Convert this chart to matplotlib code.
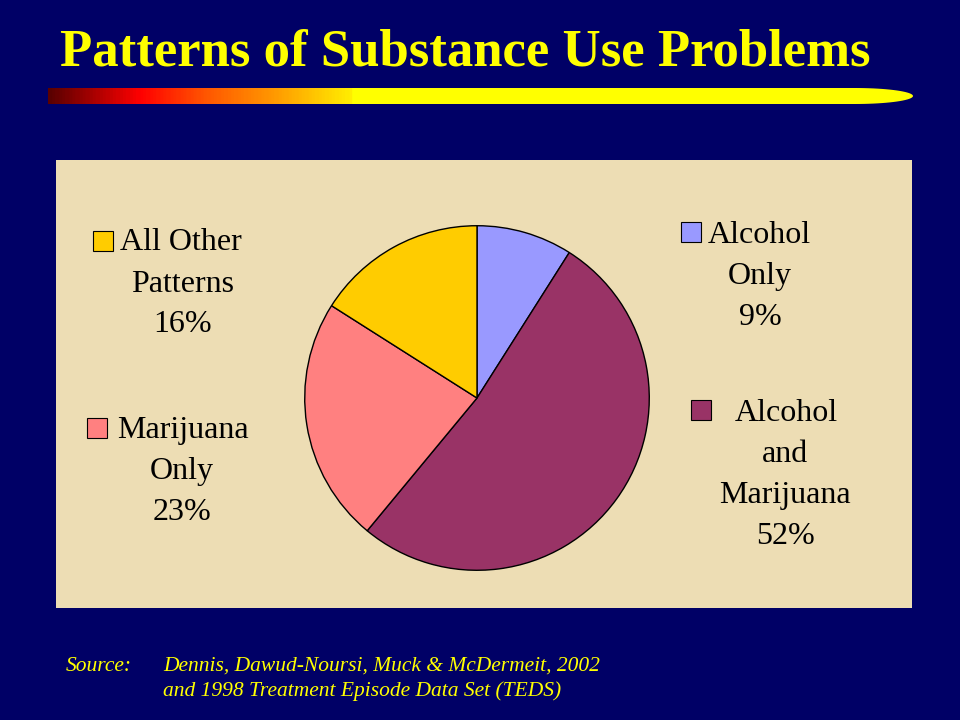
import numpy as np
import matplotlib.pyplot as plt
from matplotlib.colors import LinearSegmentedColormap
from matplotlib.path import Path
from matplotlib.patches import PathPatch, Rectangle

# pie data (clockwise from 12 o'clock)
categories = ["Alcohol Only", "Alcohol and Marijuana", "Marijuana Only", "All Other Patterns"]
shares = [9, 52, 23, 16]
colors = ["#9999FF", "#993366", "#FF8080", "#FFCC00"]

title = "Patterns of Substance Use Problems"
source_lines = ["Dennis, Dawud-Noursi, Muck & McDermeit, 2002",
                "and 1998 Treatment Episode Data Set (TEDS)"]

BG = "#000066"
PANEL = "#EDDDB4"
SERIF = ["Liberation Serif", "DejaVu Serif"]

fig = plt.figure(figsize=(9.6, 7.2), dpi=100)
fig.patch.set_facecolor(BG)

# full-figure axes in pixel coordinates
ax = fig.add_axes([0, 0, 1, 1])
ax.set_xlim(0, 960)
ax.set_ylim(720, 0)
ax.axis("off")

ax.text(60, 65, title, color="#FFFF00", fontsize=38, fontweight="bold",
        family=SERIF, va="baseline", ha="left")

# gradient bar with tapered right end
x0, x1, y0, y1 = 48, 913, 88, 104
tip = 855
theta = np.linspace(np.pi / 2, -np.pi / 2, 40)
ex = tip + (x1 - tip) * np.cos(theta)
ey = (y0 + y1) / 2 - (y1 - y0) / 2 * np.sin(theta)
verts = [(x0, y0), (tip, y0)] + list(zip(ex, ey)) + [(x0, y1), (x0, y0)]
codes = [Path.MOVETO] + [Path.LINETO] * (len(verts) - 2) + [Path.CLOSEPOLY]
clip = PathPatch(Path(verts, codes), facecolor="none", edgecolor="none")
ax.add_patch(clip)
cmap = LinearSegmentedColormap.from_list(
    "bar", [(0, "#5a0000"), (0.105, "#FF0000"), (0.18, "#FF5500"),
            (0.26, "#FF9900"), (0.35, "#FFEE00"), (0.351, "#FFFF00"), (1, "#FFFF00")])
grad = np.linspace(0, 1, 600).reshape(1, -1)
im = ax.imshow(grad, cmap=cmap, extent=(x0, x1, y1, y0), aspect="auto")
im.set_clip_path(clip)

# beige panel
ax.add_patch(Rectangle((56, 160), 856, 448, facecolor=PANEL, edgecolor="none"))

# labels
def label(sq_x, sq_y, first, rest, cx, y_first, y_rest, color, size=23):
    ax.add_patch(Rectangle((sq_x, sq_y), 20, 20, facecolor=color,
                           edgecolor="black", linewidth=0.8, zorder=3))
    ax.text(first[1], y_first, first[0], fontsize=size, family=SERIF,
            ha="left", va="baseline", color="black")
    for txt, yy in zip(rest, y_rest):
        ax.text(cx, yy, txt, fontsize=size, family=SERIF, ha="center",
                va="baseline", color="black")

label(93, 231, ("All Other", 120), ["Patterns", f"{shares[3]}%"], 183,
      250, [292, 332], colors[3])
label(681, 222, ("Alcohol", 708), ["Only", f"{shares[0]}%"], 760,
      243, [284, 325], colors[0])
label(87, 418, ("Marijuana", 117), ["Only", f"{shares[2]}%"], 182,
      438, [479, 520], colors[2])
label(691, 400, ("Alcohol", 735), ["and", "Marijuana", f"{shares[1]}%"], 785,
      421, [462, 503, 544], colors[1])

# source
ax.text(66, 671, "Source:", color="#FFFF00", fontsize=15.5, style="italic",
        family=SERIF, va="baseline")
for i, line in enumerate(source_lines):
    ax.text(163, 671 + 25 * i, line, color="#FFFF00", fontsize=15.5,
            style="italic", family=SERIF, va="baseline")

# pie axes
cx, cy, r = 477, 398, 174
pax = fig.add_axes([(cx - r) / 960, (720 - cy - r) / 720, 2 * r / 960, 2 * r / 720])
pax.pie(shares, colors=colors, startangle=90, counterclock=False, radius=1,
        wedgeprops=dict(edgecolor="black", linewidth=1.0))
pax.set_xlim(-1.01, 1.01)
pax.set_ylim(-1.01, 1.01)
pax.set_aspect("equal")
pax.axis("off")

fig.savefig("out.png", dpi=100, facecolor=BG)
